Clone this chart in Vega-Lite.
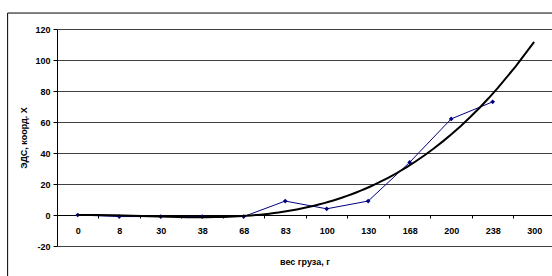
{
  "$schema": "https://vega.github.io/schema/vega-lite/v6.json",
  "width": 495,
  "height": 217,
  "autosize": {"type": "none"},
  "padding": {"left": 57, "top": 29, "right": 0, "bottom": 30},
  "background": "white",
  "config": {"view": {"stroke": null}, "font": "Liberation Sans"},
  "data": {
    "values": [
      {"i": 0, "w": "0", "emf": 0},
      {"i": 1, "w": "8", "emf": -1},
      {"i": 2, "w": "30", "emf": -1},
      {"i": 3, "w": "38", "emf": -1},
      {"i": 4, "w": "68", "emf": -1},
      {"i": 5, "w": "83", "emf": 9},
      {"i": 6, "w": "100", "emf": 4},
      {"i": 7, "w": "130", "emf": 9},
      {"i": 8, "w": "168", "emf": 34},
      {"i": 9, "w": "200", "emf": 62},
      {"i": 10, "w": "238", "emf": 73}
    ]
  },
  "layer": [
    {
      "mark": {"type": "line", "color": "#000080", "strokeWidth": 1, "point": {"shape": "diamond", "filled": true, "size": 22, "color": "#000080"}},
      "encoding": {
        "x": {
          "field": "i",
          "type": "quantitative",
          "scale": {"domain": [-0.5, 11.43], "nice": false, "zero": false},
          "axis": {
            "values": [-0.5, 0.5, 1.5, 2.5, 3.5, 4.5, 5.5, 6.5, 7.5, 8.5, 9.5, 10.5],
            "tickCount": 30,
            "offset": -31,
            "grid": false,
            "domainColor": "black",
            "tickColor": "black",
            "tickSize": 3,
            "labelExpr": "['0','8','30','38','68','83','100','130','168','200','238','300'][round(datum.value + 0.5)]",
            "labelOffset": 20.75,
            "labelFlush": false,
            "labelOverlap": false,
            "labelBound": false,
            "labelPadding": 8,
            "labelFontSize": 9,
            "labelFontWeight": "bold",
            "labelColor": "black",
            "title": "вес груза, г",
            "titleFontSize": 9,
            "titleFontWeight": "bold",
            "titleColor": "black",
            "titlePadding": 22
          }
        },
        "y": {
          "field": "emf",
          "type": "quantitative",
          "scale": {"domain": [-20, 120], "nice": false, "zero": false},
          "axis": {
            "values": [-20, 0, 20, 40, 60, 80, 100, 120],
            "tickCount": 20,
            "grid": true,
            "gridColor": "#000000",
            "gridOpacity": 0.75,
            "domainColor": "black",
            "tickColor": "black",
            "tickSize": 4,
            "labelExpr": "'' + datum.value",
            "labelOverlap": false,
            "labelFlush": false,
            "labelBound": false,
            "labelPadding": 3,
            "labelFontSize": 9,
            "labelFontWeight": "bold",
            "labelColor": "black",
            "title": "ЭДС, коорд. Х",
            "titleFontSize": 9,
            "titleFontWeight": "bold",
            "titleColor": "black",
            "titlePadding": 6
          }
        }
      }
    },
    {
      "transform": [{"regression": "emf", "on": "i", "method": "poly", "order": 3, "extent": [0, 11]}],
      "mark": {"type": "line", "color": "black", "strokeWidth": 2},
      "encoding": {
        "x": {"field": "i", "type": "quantitative"},
        "y": {"field": "emf", "type": "quantitative"}
      }
    },
    {
      "data": {"values": [{}]},
      "mark": {"type": "rect", "filled": false, "stroke": "black", "strokeWidth": 1, "clip": false},
      "encoding": {
        "x": {"datum": -1.69, "type": "quantitative"},
        "x2": {"datum": 20},
        "y": {"datum": 130.3, "type": "quantitative"},
        "y2": {"datum": -80}
      }
    }
  ]
}
